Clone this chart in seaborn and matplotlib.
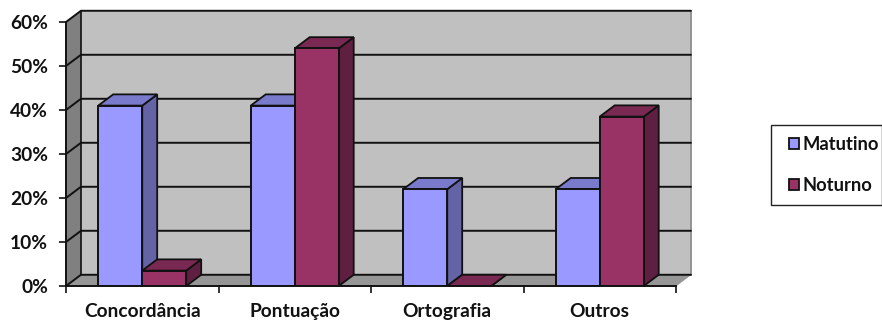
import matplotlib
matplotlib.use("Agg")
import matplotlib.pyplot as plt
from matplotlib.legend_handler import HandlerPatch
from matplotlib.patches import Polygon, Patch, Rectangle
import pandas as pd
import seaborn as sns

categories = ["Concordância", "Pontuação", "Ortografia", "Outros"]
matutino = [41, 41, 22, 22]
noturno = [3.5, 54, 0, 38.5]
y_ticks = [0, 10, 20, 30, 40, 50, 60]

FRONT = {"Matutino": "#9999FF", "Noturno": "#993366"}
TOP = {"Matutino": "#7A7ACC", "Noturno": "#7A2952"}
SIDE = {"Matutino": "#6363A6", "Noturno": "#5E1F40"}
DX, DY = 0.098, 2.55   # oblique depth in data units
EDGE = "#111111"
TEXT_SIZE = 13.8
LEGEND_SIZE = 13.2

sns.set_theme(style="white")
plt.rcParams["font.family"] = ["Lato", "DejaVu Sans"]
plt.rcParams["font.weight"] = "bold"

W, H = 882, 322
fig = plt.figure(figsize=(W / 100, H / 100), dpi=100, facecolor="white")
ax = fig.add_axes([66 / W, (H - 286) / H, 610 / W, 264 / H])
ax.patch.set_visible(False)

df = pd.DataFrame({"Categoria": categories * 2,
                   "Valor": matutino + noturno,
                   "Turno": ["Matutino"] * 4 + ["Noturno"] * 4})
sns.barplot(data=df, x="Categoria", y="Valor", hue="Turno", palette=FRONT,
            hue_order=["Matutino", "Noturno"], width=0.577, gap=0, dodge=True, saturation=1,
            edgecolor=EDGE, linewidth=1.4, legend=False, ax=ax)

x0, x1, y0, y1 = -0.5, 3.5, 0, 60
ax.set_xlim(x0, x1)
ax.set_ylim(y0, y1)

def face(points, color, z):
    ax.add_patch(Polygon(points, closed=True, facecolor=color, edgecolor=color,
                         linewidth=0.5, clip_on=False, zorder=z))

# Walls and floor of the oblique box
face([(x0 + DX, y0 + DY), (x1 + DX, y0 + DY), (x1 + DX, y1 + DY), (x0 + DX, y1 + DY)], "#C0C0C0", 0.1)
face([(x0, y0), (x0 + DX, y0 + DY), (x0 + DX, y1 + DY), (x0, y1)], "#808080", 0.2)
face([(x0, y0), (x0 + DX, y0 + DY), (x1 + DX, y0 + DY), (x1, y0)], "#969696", 0.2)
ax.plot([x1 + DX, x1 + DX], [y0 + DY, y1 + DY], color="#8C8C8C", lw=1.2, clip_on=False, zorder=0.3)

# Gridlines run along the back wall and fold down the left wall
for t in y_ticks:
    ax.plot([x0, x0 + DX, x1 + DX], [t, t + DY, t + DY], color=EDGE, lw=1.4,
            clip_on=False, solid_joinstyle="miter", zorder=0.5)
ax.plot([x0 + DX, x0 + DX], [y0 + DY, y1 + DY], color=EDGE, lw=1.2, clip_on=False, zorder=0.5)

# Each bar gets a top and a side face, stacked left to right
series = ["Matutino"] * 4 + ["Noturno"] * 4
bars = list(ax.patches)[:8]
for bar, name in zip(bars, series):
    left, right = bar.get_x(), bar.get_x() + bar.get_width()
    h = bar.get_height()
    z = 2 + left
    for pts, col in (([(right, 0), (right + DX, DY), (right + DX, h + DY), (right, h)], SIDE[name]),
                     ([(left, h), (left + DX, h + DY), (right + DX, h + DY), (right, h)], TOP[name])):
        ax.add_patch(Polygon(pts, closed=True, facecolor=col, edgecolor=EDGE, linewidth=1.3,
                             joinstyle="miter", clip_on=False, zorder=z))
    bar.set_zorder(z + 0.01)

for s in ("top", "right"):
    ax.spines[s].set_visible(False)
for s in ("left", "bottom"):
    ax.spines[s].set_color(EDGE)
    ax.spines[s].set_linewidth(1.4)
    ax.spines[s].set_zorder(10)

ax.set_xlabel("")
ax.set_ylabel("")
ax.set_yticks(y_ticks)
ax.set_yticklabels([f"{t}%" for t in y_ticks], fontsize=TEXT_SIZE, fontweight="bold", color="#111111")
ax.set_xticks([x0 + i for i in range(5)])
ax.set_xticklabels([""] * 5)
ax.set_xticks(range(4), minor=True)
ax.set_xticklabels(categories, minor=True, fontsize=TEXT_SIZE, fontweight="bold", color="#111111")
ax.tick_params(axis="both", which="major", length=5, width=1.2, color=EDGE, left=True, bottom=True)
ax.tick_params(axis="y", pad=8)
ax.tick_params(axis="x", which="minor", length=0, pad=12.5)

# Small square swatches sit at the right end of the legend's handle box
def square_swatch(legend, orig_handle, xdescent, ydescent, width, height, fontsize):
    side = 7.8
    return Rectangle((width - side - xdescent, (height - side) / 2 - ydescent), side, side)

handles = [Patch(facecolor=FRONT[n], edgecolor=EDGE, linewidth=1.3, label=n) for n in FRONT]
leg = fig.legend(handles=handles, loc="lower left",
                 bbox_to_anchor=(771 / W, (H - 205) / H, 111 / W, 76 / H),
                 mode="expand", frameon=True, fancybox=False, edgecolor="#222222", framealpha=1,
                 handler_map={Patch: HandlerPatch(patch_func=square_swatch)},
                 handlelength=0.95, handleheight=0.72, handletextpad=0.15, labelspacing=1.3,
                 borderaxespad=0, borderpad=0.6, prop={"size": LEGEND_SIZE, "weight": "bold"}, labelcolor="#111111")
leg.get_frame().set_linewidth(1.0)

fig.savefig("out.png", dpi=100)
